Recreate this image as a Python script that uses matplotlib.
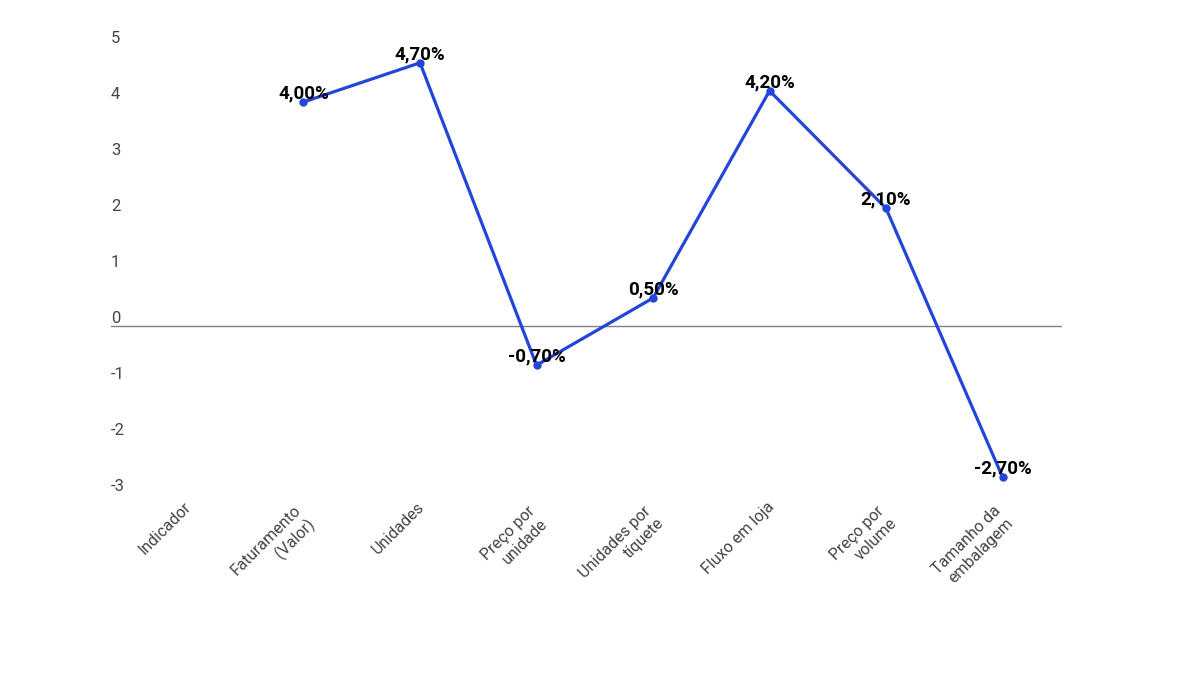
import matplotlib
matplotlib.use("Agg")
import matplotlib.pyplot as plt

categories = ["Indicador", "Faturamento\n(Valor)", "Unidades", "Preço por\nunidade",
              "Unidades por\ntíquete", "Fluxo em loja", "Preço por\nvolume",
              "Tamanho da\nembalagem"]
# index positions of categories that carry a value (Indicador has none)
value_idx = [1, 2, 3, 4, 5, 6, 7]
values = [4.0, 4.7, -0.7, 0.5, 4.2, 2.1, -2.7]
value_labels = ["4,00%", "4,70%", "-0,70%", "0,50%", "4,20%", "2,10%", "-2,70%"]
y_ticks = [-3, -2, -1, 0, 1, 2, 3, 4, 5]

plt.rcParams['font.family'] = ['Roboto', 'DejaVu Sans']

fig = plt.figure(figsize=(12, 6.75), dpi=100)
ax = fig.add_axes([111/1200, 1-494/675, (1062-111)/1200, (494-46)/675])

line_color = '#2346d8'
ax.axhline(0, color='#808080', lw=1, zorder=1)
ax.plot(value_idx, values, color=line_color, lw=2.3, marker='o', markersize=5,
        zorder=3, solid_capstyle='round')

for xi, v, lab in zip(value_idx, values, value_labels):
    ax.annotate(lab, (xi, v), xytext=(0, 2.5), textcoords='offset points',
                ha='center', va='baseline', fontsize=13.5, fontweight='bold',
                color='black', zorder=4)

ax.set_xlim(-0.652, 7.51)
ax.set_ylim(-3, 5)

ax.set_yticks(y_ticks)
ax.set_yticklabels([str(t) for t in y_ticks])
ax.tick_params(axis='y', length=0, pad=0, labelsize=12, labelcolor='#444444')
for t in ax.get_yticklabels():
    t.set_ha('left')
    t.set_va('bottom')

# category labels, rotated, right-aligned lines, block centred on the anchor
ax.set_xticks(range(len(categories)))
ax.set_xticklabels([])
ax.tick_params(axis='x', length=0)
for i, cat in enumerate(categories):
    nlines = cat.count("\n") + 1
    ax.annotate(cat, xy=(i, 0), xycoords=('data', 'axes fraction'),
                xytext=(2, -11 - 10 * (nlines - 1)), textcoords='offset pixels',
                rotation=45, rotation_mode='anchor', ha='right', va='center',
                multialignment='right', fontsize=11.5, color='#444444',
                annotation_clip=False)

for s in ax.spines.values():
    s.set_visible(False)

fig.savefig("out.png", dpi=100, facecolor='white')
